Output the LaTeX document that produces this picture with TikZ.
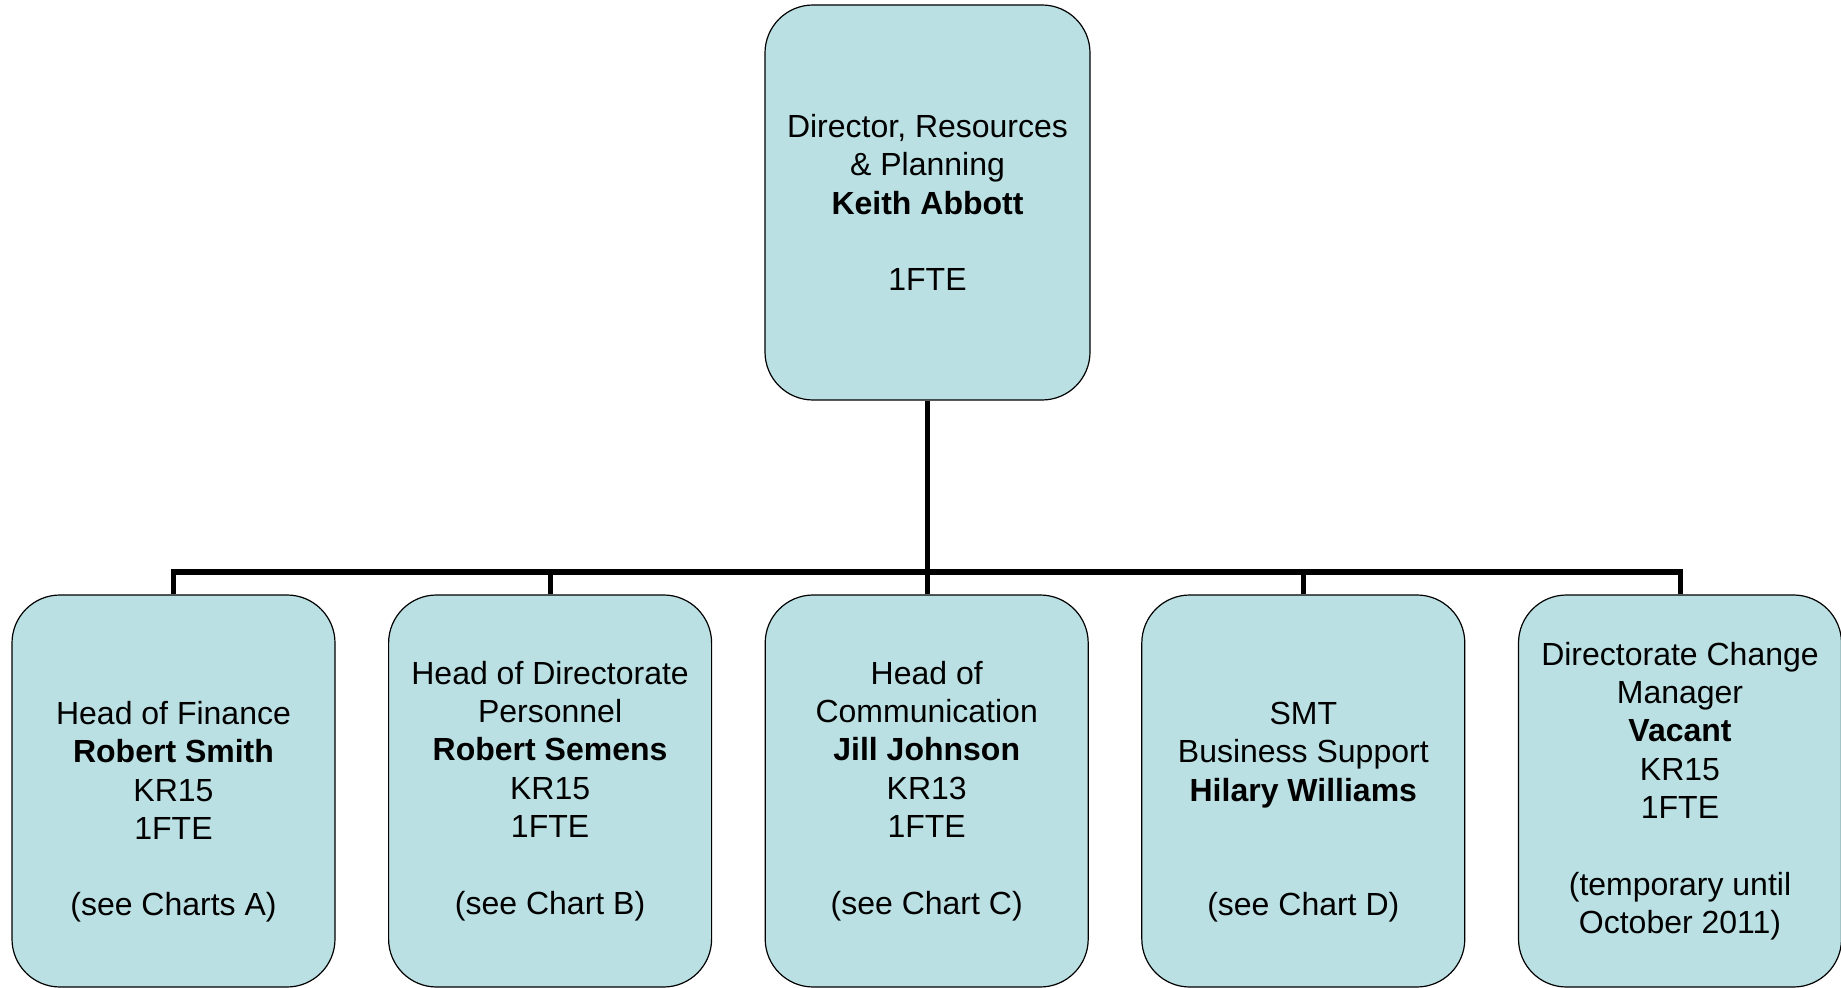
\documentclass[tikz,border=0pt]{standalone}
\usepackage{fontspec}
\setmainfont{Liberation Sans}
\usetikzlibrary{positioning}
\definecolor{postblue}{RGB}{186,224,227}

\begin{document}
\begin{tikzpicture}[x=0.5pt,y=-0.5pt,
  post/.style={draw=black,line width=0.6pt,fill=postblue,rounded corners=24pt,
    align=center,font=\fontsize{16}{19.15}\selectfont,inner sep=0pt,
    minimum width=161.5pt,minimum height=196pt},
  conn/.style={line width=2.5pt}]
\useasboundingbox (0,0) rectangle (1841,988);

% director
\node[post,minimum width=162.5pt,minimum height=197.5pt] (dir) at (927.5,202.5)
  {Director, Resources\\\& Planning\\\textbf{Keith Abbott}\\~\\1FTE};

% heads
\node[post] (fin) at (173.5,791) {\strut\\Head of Finance\\\textbf{Robert Smith}\\KR15\\1FTE\\~\\(see Charts A)};
\node[post] (per) at (550.1,791) {Head of Directorate\\Personnel\\\textbf{Robert Semens}\\KR15\\1FTE\\~\\(see Chart B)};
\node[post] (com) at (926.7,791) {Head of\\Communication\\\textbf{Jill Johnson}\\KR13\\1FTE\\~\\(see Chart C)};
\node[post] (smt) at (1303.3,791) {\strut\\SMT\\Business Support\\\textbf{Hilary Williams}\\~\\~\\(see Chart D)};
\node[post] (chg) at (1680,791) {Directorate Change\\Manager\\\textbf{Vacant}\\KR15\\1FTE\\~\\(temporary until\\October 2011)};

% lines
\coordinate (bus) at (927.5,572);
\draw[conn] (dir.south) -- (dir.south |- com.north);
\foreach \n in {fin,per,smt,chg}
  \draw[conn] (\n.north) |- (bus);
\end{tikzpicture}
\end{document}
